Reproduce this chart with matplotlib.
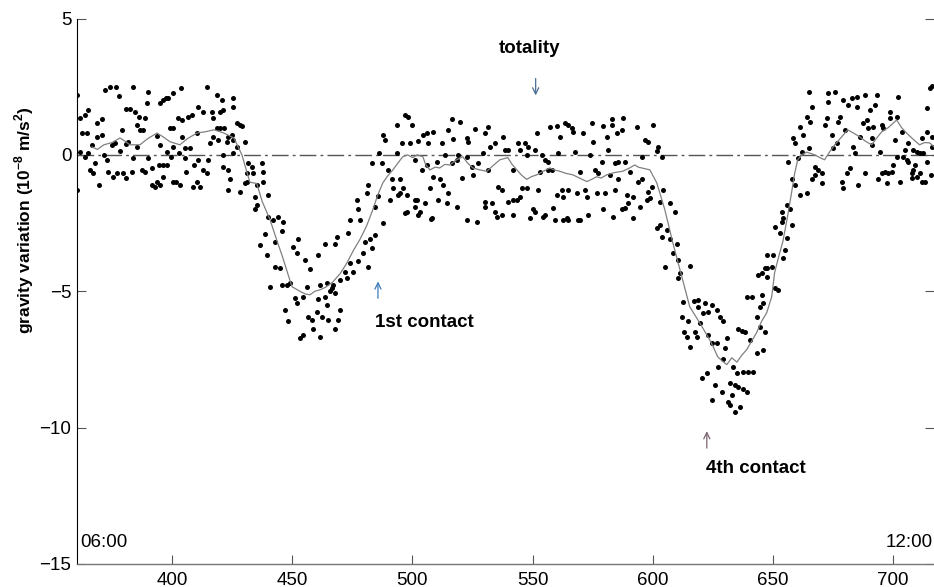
import numpy as np
import matplotlib
matplotlib.use('Agg')
from matplotlib import pyplot as plt

plt.rcParams['font.family'] = ['Liberation Sans', 'DejaVu Sans']
plt.rcParams['mathtext.fontset'] = 'custom'
plt.rcParams['mathtext.bf'] = 'Liberation Sans:bold'
plt.rcParams['mathtext.rm'] = 'Liberation Sans'
plt.rcParams['axes.unicode_minus'] = True

# gravity samples (minutes, 1e-8 m/s^2), by stretch of the record
t_pre = [360.5, 360.5, 361.7, 363.8, 365.1, 362.6, 364.7, 361.7, 363.8, 365.1,
         365.9, 367.2, 368.0, 369.6, 366.7, 368.8, 370.9, 368.8, 370.9, 372.1,
         374.2, 376.7, 378.0, 371.7, 373.0, 373.4, 375.5, 377.1, 375.1, 376.3,
         379.2, 380.9, 382.5, 384.6, 386.3, 383.8, 380.9, 381.7, 378.4, 379.6,
         380.9, 383.4, 383.8, 385.5, 385.5, 386.7, 388.0, 388.8, 389.6, 390.0,
         387.5, 388.8, 390.0, 391.7, 391.7, 392.9, 393.8, 395.0, 394.6, 396.3,
         396.3, 397.9, 395.0, 396.3, 397.5, 398.3, 400.4, 399.2, 400.4, 393.8,
         395.0, 397.9, 399.6, 400.4, 401.7, 403.3, 400.4, 402.9, 404.2, 402.5,
         404.2, 403.7, 405.4, 405.4, 405.8, 407.5, 406.7, 408.3, 408.7, 410.4,
         411.6, 409.2, 410.8, 412.9, 414.6, 415.0, 415.8, 410.4, 410.8, 412.9,
         414.6, 416.6, 417.1, 418.7, 420.8, 420.0, 421.2, 418.7, 420.0, 421.6,
         417.1, 419.1, 421.2, 421.2, 422.9, 423.3, 425.0, 425.4, 425.4, 423.3,
         424.1, 423.3, 425.4, 425.4, 427.0, 428.3, 429.1, 427.0, 430.4, 428.3,
         430.4, 431.2]
g_pre = [2.2, -1.3, 1.35, 1.47, 1.65, 0.8, 0.8, 0.1, -0.07, 0.07,
         -0.55, -0.66, -0.3, -1.1, 0.37, 0.66, 0.73, 1.17, 1.3, 2.38,
         2.5, 2.5, 2.16, 0.0, -0.18, -0.62, -0.8, -0.66, 0.37, 0.44,
         0.9, 1.7, 1.7, 1.57, 1.4, 2.5, 0.4, 0.48, 0.15, -0.66,
         -0.84, -0.62, -0.1, 0.3, 1.1, 0.9, 0.9, 1.35, 1.9, 2.3,
         -0.55, -0.62, -0.1, -0.48, -1.1, -1.17, -1.0, -1.1, -0.37, -0.37,
         -0.8, -0.37, 1.9, 2.0, 2.1, 2.1, 2.27, 1.0, 1.0, 0.7,
         0.37, 0.1, -0.07, -1.0, -1.0, -1.1, 0.3, 0.07, 0.66, 1.35,
         1.28, 2.45, 0.26, -0.1, -0.62, 0.26, 1.4, 1.47, -1.17, -1.0,
         -1.17, -0.37, -0.18, -0.55, -0.66, -0.18, 0.44, 0.8, 1.76, 1.57,
         2.5, 1.57, 1.35, 2.2, 2.0, 1.57, 1.65, 1.0, 1.0, 1.0,
         0.66, 0.55, 0.0, -0.44, 0.48, 0.66, 0.73, 0.07, 0.55, -0.55,
         -0.9, -1.28, 2.1, 1.76, 1.17, 1.1, 1.06, 0.3, 0.48, -1.36,
         -1.03, -0.66]

t_dip1 = [431.6, 433.3, 433.7, 431.2, 434.5, 435.3, 434.5, 436.6, 437.4, 437.8,
          435.3, 437.8, 440.0, 440.0, 444.1, 442.0, 445.8, 439.5, 442.8, 444.9,
          440.8, 445.8, 450.3, 452.4, 452.0, 455.3, 457.4, 460.7, 463.6, 467.8,
          468.6, 473.2, 474.0, 477.4, 478.2, 476.9, 481.1, 481.5, 484.4, 485.7,
          483.2, 487.3, 486.1, 487.7, 488.6, 493.6, 496.9, 498.1, 499.8, 495.6,
          499.0, 489.8, 491.5, 494.8, 491.9, 496.0, 494.0, 490.6, 497.7, 501.0,
          501.0, 502.3, 487.7, 484.4, 482.4, 483.2, 480.3, 479.4, 477.4, 481.5,
          474.0, 472.0, 472.8, 475.3, 469.9, 467.0, 464.5, 465.7, 461.5, 463.6,
          467.8, 466.5, 460.7, 456.1, 454.5, 451.2, 452.0, 449.1, 447.8, 447.0,
          448.2, 453.2, 454.5, 456.6, 458.2, 458.6, 461.5, 460.3, 462.4, 464.9,
          467.8, 469.9, 469.0, 464.5, 493.6, 501.0, 502.5, 446.2, 438.5, 443.0]
g_dip1 = [-0.3, -0.44, -0.66, -1.0, -1.54, -1.83, -2.0, -3.3, -0.3, -0.62,
          -1.1, -1.0, -1.47, -2.27, -2.27, -2.38, -2.8, -3.66, -4.1, -4.14,
          -4.83, -4.76, -3.37, -3.1, -3.6, -3.85, -4.2, -3.66, -3.26, -3.26,
          -3.0, -2.86, -2.38, -2.0, -2.38, -1.65, -1.4, -1.1, -1.9, -1.5,
          -0.3, -0.3, 0.07, 0.73, 0.55, 1.1, 1.47, 1.4, 1.1, 0.44,
          0.44, -0.55, -0.9, -0.9, -1.2, -1.2, -1.47, -1.65, -2.1, -1.65,
          -1.9, -2.2, -2.5, -2.93, -3.1, -3.4, -3.2, -3.6, -3.9, -4.1,
          -3.96, -4.28, -4.5, -4.28, -4.58, -4.76, -4.7, -5.0, -4.76, -5.2,
          -5.06, -4.87, -5.3, -4.83, -5.2, -5.24, -5.42, -4.7, -4.76, -5.68,
          -6.1, -6.7, -6.6, -5.93, -6.04, -6.4, -6.67, -5.75, -5.93, -6.04,
          -6.4, -5.68, -6.04, -5.5, 0.07, -0.18, 0.5, -2.45, -2.9, -3.2]

t_mid = [504.4, 506.0, 508.5, 506.4, 512.3, 516.4, 519.7, 516.8, 522.7, 523.1,
         514.8, 513.5, 518.9, 510.2, 506.0, 503.9, 508.5, 511.4, 512.7, 507.3,
         516.4, 520.6, 514.8, 510.6, 505.2, 514.3, 518.5, 508.1, 503.1, 522.7,
         526.8, 525.2, 527.2, 524.8, 529.3, 530.1, 531.4, 526.0, 534.3, 537.6,
         531.4, 535.5, 537.2, 530.1, 533.1, 535.1, 537.2, 534.3, 538.5, 539.7,
         541.8, 539.7, 541.8, 543.5, 544.7, 545.5, 547.6, 544.7, 543.9, 546.8,
         548.0, 547.6, 550.9, 551.8, 550.1, 550.9, 548.8, 553.0, 552.2, 555.1,
         556.4, 553.9, 554.3, 555.1, 558.4, 559.3, 556.4, 558.0, 557.2, 560.1,
         561.3, 560.5, 560.1, 562.2, 562.6, 564.7, 563.5, 564.7, 566.3, 566.7,
         564.3, 564.7, 567.6, 568.4, 568.8, 570.9, 569.7, 571.7, 572.6, 573.0,
         574.6, 575.0, 573.8, 575.9, 576.7, 494.8, 497.7, 501.9, 496.9, 507.7,
         530.1, 541.8, 562.6, 569.7, 518.5, 522.7, 532.2]
g_mid = [0.73, 0.8, 0.84, 0.44, 0.44, 1.3, 1.2, 0.59, 0.62, 0.48,
         0.92, 0.0, 0.0, -0.25, -0.37, -0.55, -0.8, -0.9, -1.1, -1.2,
         -0.3, -0.84, -1.4, -1.65, -1.76, -1.76, -1.9, -2.3, -2.1, -2.38,
         -2.45, -0.73, -0.3, -0.44, 0.07, 0.8, 1.03, 0.95, 0.44, 0.66,
         -0.55, -1.17, -1.28, -1.9, -1.76, -2.27, -2.2, -2.1, 0.18, 0.18,
         -2.2, -1.72, -0.55, -1.65, -1.54, -1.2, -1.2, 0.18, 0.44, 0.44,
         0.3, 0.0, 0.18, 0.8, -2.0, -2.1, -2.3, -0.62, -1.28, -0.18,
         -0.25, 0.0, -2.27, -2.2, -1.94, -2.38, -0.55, -0.55, 1.03, 1.06,
         0.66, 0.07, -1.47, -1.28, -1.54, -1.28, 1.17, 1.1, 1.0, 0.84,
         -2.3, -2.38, 0.11, -1.4, -2.38, 0.8, -0.62, -1.28, -1.54, -2.2,
         1.17, 0.48, 0.0, -0.55, -1.4, -1.4, -1.47, -1.65, -2.13, -2.35,
         -1.72, -1.65, -2.38, -2.38, -0.18, -0.07, 0.3]

t_fall = [579.2, 583.0, 583.0, 587.5, 587.1, 585.0, 580.9, 593.3, 600.0, 596.7,
          597.9, 602.1, 601.7, 603.8, 595.4, 590.4, 588.4, 585.4, 584.2, 581.3,
          578.8, 577.1, 582.1, 585.4, 593.8, 595.4, 580.0, 584.2, 589.2, 591.7,
          579.2, 583.4, 587.1, 588.4, 589.6, 591.7, 594.6, 597.5, 598.8, 597.9,
          599.6, 604.2, 603.0, 607.1, 609.2, 601.7, 603.0, 605.8, 603.8, 607.1,
          610.0, 608.3, 605.0, 610.4, 615.4, 611.3, 610.4]
g_fall = [1.06, 1.3, 1.1, 1.35, 0.92, 0.8, 0.66, 1.03, 1.1, 0.55,
          0.48, 0.3, 0.15, -0.07, -0.07, -0.62, -0.25, -0.25, -0.3, 0.18,
          -0.25, -0.66, -0.73, -0.9, -1.0, -0.9, -1.4, -1.3, -1.47, -1.54,
          -2.0, -2.27, -2.0, -1.94, -1.76, -2.3, -1.9, -1.65, -1.58, -1.35,
          -1.17, -1.28, -1.72, -1.76, -2.1, -2.67, -2.56, -2.75, -3.0, -3.1,
          -3.26, -3.6, -4.1, -3.85, -4.07, -4.33, -4.5]

t_dip2 = [612.1, 614.6, 613.0, 614.2, 615.4, 617.5, 618.3, 618.7, 618.7, 621.6,
          620.8, 622.9, 624.5, 626.6, 627.9, 629.1, 619.5, 622.9, 624.5, 626.6,
          629.9, 630.8, 629.1, 627.0, 620.4, 622.5, 625.8, 628.7, 624.5, 632.1,
          634.1, 635.4, 637.4, 639.1, 631.2, 632.9, 632.1, 636.2, 634.1, 633.2,
          635.0, 637.4, 639.5, 641.6, 635.4, 637.0, 638.3, 640.3, 643.2, 645.7,
          644.5, 646.6, 643.2, 644.5, 645.7, 639.1, 641.2, 645.3, 643.7, 645.3,
          646.6, 612.8, 617.0]
g_dip2 = [-5.93, -6.1, -6.48, -6.67, -7.03, -6.48, -6.67, -5.31, -5.57, -5.42,
          -5.79, -5.75, -5.5, -5.68, -5.93, -6.1, -6.15, -6.6, -6.9, -6.9,
          -7.07, -6.7, -7.5, -7.76, -8.17, -7.99, -8.42, -8.68, -8.97, -8.35,
          -8.42, -8.5, -8.6, -8.68, -9.05, -8.79, -9.16, -9.23, -9.41, -7.76,
          -7.99, -7.95, -7.95, -7.95, -6.4, -6.45, -6.48, -6.78, -7.25, -7.14,
          -6.3, -6.48, -5.93, -5.57, -5.42, -5.2, -5.2, -5.13, -4.4, -4.33,
          -4.14, -5.4, -5.35]

t_post = [647.4, 647.4, 650.0, 649.5, 654.1, 654.9, 655.7, 652.8, 650.7, 653.6,
          654.1, 653.6, 656.9, 657.8, 655.7, 661.1, 664.0, 659.0, 657.8, 656.1,
          660.3, 662.0, 665.2, 658.2, 659.0, 662.4, 661.1, 664.0, 665.6, 666.1,
          665.2, 667.4, 668.7, 670.3, 667.4, 666.1, 670.3, 672.4, 671.5, 672.8,
          672.8, 675.7, 674.5, 674.9, 676.6, 677.8, 677.0, 679.0, 681.1, 682.8,
          684.8, 684.8, 679.8, 678.6, 679.0, 680.7, 681.9, 685.2, 683.2, 686.1,
          684.0, 687.3, 688.2, 689.0, 690.2, 692.3, 693.1, 689.4, 691.5, 691.1,
          691.1, 688.2, 695.2, 695.6, 694.4, 693.6, 695.2, 696.5, 697.7, 699.4,
          697.3, 699.8, 701.5, 698.5, 698.5, 701.5, 701.9, 700.6, 702.7, 704.0,
          705.6, 706.1, 704.8, 703.5, 708.1, 709.8, 711.0, 712.3, 707.7, 708.1,
          709.0, 707.7, 709.8, 711.0, 713.1, 711.9, 714.0, 714.0, 711.9, 714.0,
          715.2, 715.7, 706.1, 716.0, 716.0, 716.0, 647.4, 650.7, 652.0]
g_post = [-4.14, -3.66, -3.66, -4.1, -3.77, -3.48, -3.04, -2.86, -2.64, -2.45,
          -2.3, -2.1, -2.0, -2.56, -1.83, -1.47, -1.4, -1.1, -0.9, -0.25,
          -0.1, 0.1, 0.26, 0.62, 0.44, 0.73, 1.03, 1.4, 1.2, 1.76,
          2.3, -0.44, -0.55, -0.66, -0.73, -0.9, -1.03, 1.36, 1.1, 2.27,
          1.94, 2.3, 0.73, 0.26, 0.44, 1.4, 1.2, 2.0, 1.83, 2.1,
          2.13, 1.76, 0.92, -1.0, -1.2, -0.66, -0.48, -1.1, 0.3, 0.66,
          0.07, 1.17, 2.2, 1.28, 1.65, 1.83, 2.2, 1.0, 1.03, 0.62,
          0.37, -0.66, 1.1, 1.0, 0.1, -0.9, -0.66, -0.62, -0.66, -0.62,
          -1.03, -0.37, -0.07, 1.57, 1.36, 1.4, 2.13, 0.55, -1.0, -0.07,
          -0.18, -0.25, 0.18, 0.84, 0.18, 0.1, 0.07, 0.07, -0.66, -0.55,
          -0.37, -0.84, -0.8, -0.66, -1.0, -1.0, -0.25, 0.84, 0.62, 1.72,
          2.45, -0.73, 0.44, 0.66, 2.53, 0.3, -4.47, -4.87, -4.95]

# running mean (grey curve)
t_mean = [366.7, 369.0, 371.7, 375.0, 378.4, 380.5, 382.5, 386.7, 390.0, 393.8,
          396.5, 399.2, 403.3, 406.5, 410.4, 414.0, 417.5, 421.6, 425.8, 429.1,
          432.4, 435.3, 437.5, 440.8, 443.5, 446.0, 448.0, 449.9, 453.2, 455.5,
          457.4, 459.5, 461.5, 464.0, 467.0, 470.0, 472.8, 475.5, 478.2, 481.0,
          483.6, 485.5, 487.7, 489.5, 491.9, 494.0, 496.0, 498.0, 500.2, 502.0,
          504.4, 505.5, 507.3, 509.5, 511.4, 513.5, 515.6, 518.0, 521.0, 523.0,
          525.2, 528.0, 531.0, 533.5, 536.4, 539.7, 541.5, 543.5, 545.5, 547.6,
          549.5, 551.8, 554.5, 557.2, 559.0, 561.3, 564.0, 566.7, 569.5, 572.6,
          575.0, 576.7, 578.5, 580.9, 584.0, 587.5, 590.0, 592.5, 594.0, 596.5,
          598.8, 601.7, 605.0, 608.3, 612.1, 615.4, 619.5, 621.5, 623.7, 625.5,
          627.0, 628.8, 630.8, 632.9, 635.0, 637.0, 639.1, 641.0, 643.2, 645.3,
          647.4, 649.5, 650.7, 652.5, 654.1, 656.0, 657.8, 659.0, 660.3, 662.0,
          664.0, 665.8, 667.4, 669.5, 671.5, 673.5, 675.7, 678.5, 681.1, 683.5,
          686.1, 688.5, 691.1, 693.0, 695.2, 698.0, 701.5, 703.5, 705.6, 708.0,
          711.0, 713.0, 715.2, 717.0]
g_mean = [0.29, 0.2, 0.37, 0.45, 0.62, 0.5, 0.37, 0.37, 0.6, 0.8,
          0.65, 0.48, 0.37, 0.6, 0.8, 0.85, 0.92, 0.8, 0.62, 0.0,
          -1.0, -1.05, -1.7, -2.38, -3.1, -3.74, -4.3, -4.83, -5.0, -5.1,
          -5.13, -5.0, -4.95, -4.85, -4.65, -4.35, -3.96, -3.5, -3.1, -2.6,
          -2.0, -1.5, -1.03, -0.8, -0.55, -0.3, -0.07, 0.0, -0.1, 0.0,
          -0.07, -0.35, -0.55, -0.45, -0.48, -0.35, -0.37, -0.2, -0.07, -0.3,
          -0.48, -0.55, -0.6, -0.4, -0.18, -0.1, -0.35, -0.55, -0.75, -0.9,
          -0.8, -0.73, -0.6, -0.48, -0.55, -0.6, -0.68, -0.73, -0.85, -0.98,
          -0.88, -0.8, -0.85, -0.73, -0.65, -0.6, -0.5, -0.37, -0.45, -0.5,
          -0.55, -1.03, -2.0, -3.2, -4.47, -5.57, -6.15, -6.45, -6.78, -7.1,
          -7.4, -7.55, -7.69, -7.44, -7.6, -7.35, -7.14, -6.85, -6.52, -6.1,
          -5.79, -5.2, -4.32, -3.7, -3.19, -2.3, -1.36, -0.7, -0.18, 0.0,
          0.1, 0.05, 0.0, -0.1, -0.18, 0.1, 0.37, 0.65, 0.92, 0.8,
          0.66, 0.5, 0.37, 0.6, 0.84, 1.0, 1.28, 1.0, 0.8, 0.6,
          0.37, 0.45, 0.44, 0.3]

x_ticks = [400, 450, 500, 550, 600, 650, 700]
y_ticks = [5, 0, -5, -10, -15]

# event markers: (time, arrow centre, arrow direction, colour)
ev_t = [551.3, 485.7, 622.5]
ev_g = [2.49, -4.95, -10.44]
ev_dir = [-1, 1, 1]
ev_col = ['#4a6f96', '#3b7bbf', '#7a6470']

t_all = t_pre + t_dip1 + t_mid + t_fall + t_dip2 + t_post
g_all = g_pre + g_dip1 + g_mid + g_fall + g_dip2 + g_post

fig = plt.figure(figsize=(9.34, 5.87), dpi=100)
ax = fig.add_axes([77 / 934, 23 / 587, 856.5 / 934, 545.5 / 587])

ax.axhline(0, color='#555555', lw=1.0, linestyle=(0, (12, 3, 2, 3)), zorder=1)
ax.plot(t_all, g_all, 'o', color='black', markersize=3.6, markeredgewidth=0, zorder=2)
ax.plot(t_mean, g_mean, color='#808080', lw=0.9, zorder=3)

ax.set_xlim(360.5, 716.8)
ax.set_ylim(-15, 5)
ax.set_xticks(x_ticks)
ax.set_yticks(y_ticks)

ax.spines['top'].set_visible(False)
ax.spines['right'].set_visible(False)
ax.spines['left'].set_color('black')
ax.spines['left'].set_linewidth(0.8)
ax.spines['bottom'].set_color('#777777')
ax.spines['bottom'].set_linewidth(1.0)
ax.tick_params(axis='both', direction='in', length=6.5, width=0.8, color='#555555',
               labelsize=13.5, labelcolor='black')
ax.tick_params(axis='y', right=True, pad=4)
ax.tick_params(axis='x', pad=6)

ax.set_ylabel('gravity variation (10$^{\\mathbf{-8}}$ m/s$^{\\mathbf{2}}$)',
              fontsize=12.5, fontweight='bold')
ax.yaxis.set_label_coords(-0.048, 0.63)

ax.text(361.7, -14.2, '06:00', fontsize=13.5, ha='left', va='center')
ax.text(716.5, -14.2, '12:00', fontsize=13.5, ha='right', va='center')

ax.text(548.9, 3.9, 'totality', fontsize=13.5, fontweight='bold', ha='center', va='center')
ax.text(484.4, -6.15, '1st contact', fontsize=13.5, fontweight='bold', ha='left', va='center')
ax.text(622.0, -11.5, '4th contact', fontsize=13.5, fontweight='bold', ha='left', va='center')

half = 0.31
for x, y, d, c in zip(ev_t, ev_g, ev_dir, ev_col):
    ax.annotate('', xy=(x, y + d * half), xytext=(x, y - d * half),
                arrowprops=dict(arrowstyle='->,head_length=0.45,head_width=0.22',
                                color=c, lw=0.9, shrinkA=0, shrinkB=0))

fig.savefig('out.png', dpi=100)
